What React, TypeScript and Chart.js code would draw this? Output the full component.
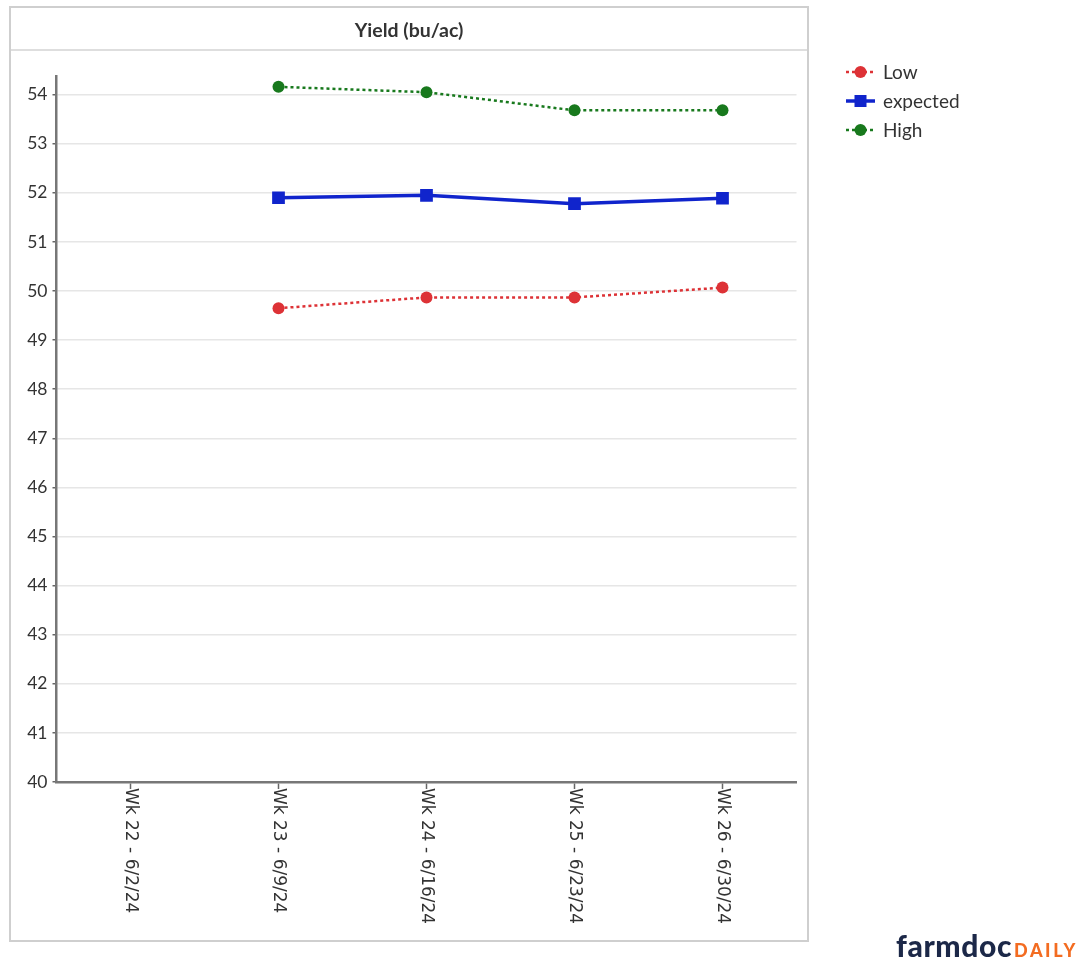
import React, { useEffect, useRef } from 'react';
import { Chart, registerables } from 'chart.js';

Chart.register(...registerables);

const categories = ['Wk 22 - 6/2/24', 'Wk 23 - 6/9/24', 'Wk 24 - 6/16/24', 'Wk 25 - 6/23/24', 'Wk 26 - 6/30/24'];
const lowValues = [null, 49.65, 49.87, 49.87, 50.07];
const expectedValues = [null, 51.9, 51.95, 51.78, 51.89];
const highValues = [null, 54.16, 54.05, 53.68, 53.68];
const yTickValues = [40, 41, 42, 43, 44, 45, 46, 47, 48, 49, 50, 51, 52, 53, 54];
const seriesNames = ['Low', 'expected', 'High'];

const W = 1083;
const H = 965;

const xLabelPlugin = {
  id: 'xLabelPlugin',
  afterDraw(chart: any) {
    const ctx = chart.ctx;
    const xs = chart.scales.x;
    ctx.save();
    ctx.fillStyle = '#333';
    ctx.font = '17px "DejaVu Sans"';
    ctx.textAlign = 'left';
    ctx.textBaseline = 'middle';
    categories.forEach((lab, i) => {
      const x = xs.getPixelForTick(i);
      ctx.save();
      ctx.translate(x, xs.top + 6);
      ctx.rotate(Math.PI / 2);
      ctx.fillText(lab, 0, 0);
      ctx.restore();
    });
    ctx.restore();
  },
};

const legendPlugin = {
  id: 'customLegend',
  afterDraw(chart: any) {
    const ctx = chart.ctx;
    const rows = [72, 101, 130];
    chart.data.datasets.forEach((ds: any, i: number) => {
      const y = rows[i];
      ctx.save();
      ctx.strokeStyle = ds.borderColor;
      ctx.lineWidth = ds.borderWidth;
      ctx.setLineDash(ds.borderDash || []);
      ctx.beginPath();
      ctx.moveTo(846, y);
      ctx.lineTo(875, y);
      ctx.stroke();
      ctx.setLineDash([]);
      ctx.fillStyle = ds.pointBackgroundColor;
      if (ds.pointStyle === 'rect') {
        ctx.fillRect(860.5 - 6, y - 6, 12, 12);
      } else {
        ctx.beginPath();
        ctx.arc(860.5, y, 6, 0, Math.PI * 2);
        ctx.fill();
      }
      ctx.fillStyle = '#333';
      ctx.font = '19px Lato';
      ctx.textAlign = 'left';
      ctx.textBaseline = 'middle';
      ctx.fillText(ds.label, 883, y + 1);
      ctx.restore();
    });
  },
};

export default function App() {
  const ref = useRef<HTMLCanvasElement | null>(null);

  useEffect(() => {
    if (!ref.current) return;
    const red = '#dd3236';
    const blue = '#1024cc';
    const green = '#18791d';
    const chart = new Chart(ref.current, {
      type: 'line',
      data: {
        labels: categories,
        datasets: [
          {
            label: seriesNames[0],
            data: lowValues,
            borderColor: red,
            backgroundColor: red,
            pointBackgroundColor: red,
            pointBorderColor: red,
            borderWidth: 2.5,
            borderDash: [3, 3],
            pointStyle: 'circle',
            pointRadius: 6,
            pointBorderWidth: 0,
            tension: 0,
          },
          {
            label: seriesNames[1],
            data: expectedValues,
            borderColor: blue,
            backgroundColor: blue,
            pointBackgroundColor: blue,
            pointBorderColor: blue,
            borderWidth: 3.5,
            pointStyle: 'rect',
            pointRadius: 9,
            pointBorderWidth: 0,
            tension: 0,
          },
          {
            label: seriesNames[2],
            data: highValues,
            borderColor: green,
            backgroundColor: green,
            pointBackgroundColor: green,
            pointBorderColor: green,
            borderWidth: 2.5,
            borderDash: [3, 3],
            pointStyle: 'circle',
            pointRadius: 6,
            pointBorderWidth: 0,
            tension: 0,
          },
        ] as any,
      },
      options: {
        animation: false,
        responsive: false,
        maintainAspectRatio: false,
        devicePixelRatio: 1,
        layout: { padding: { left: 0, right: W - 796.5, top: 76, bottom: 0 } },
        plugins: {
          legend: { display: false },
          tooltip: { enabled: false },
          title: { display: false },
        },
        scales: {
          x: {
            type: 'category',
            offset: true,
            grid: {
              drawOnChartArea: false,
              drawTicks: true,
              tickLength: 7,
              tickColor: '#666',
              tickWidth: 1.5,
            },
            border: { color: '#777', width: 2.5 },
            ticks: { display: false },
            afterFit: (s: any) => {
              s.height = H - 782;
            },
          },
          y: {
            min: 40,
            max: 54.38,
            afterBuildTicks: (s: any) => {
              s.ticks = yTickValues.map((v) => ({ value: v }));
            },
            grid: {
              color: '#e6e6e6',
              lineWidth: 1.5,
              tickColor: '#666',
              tickLength: 4,
              tickWidth: 1.5,
            },
            border: { color: '#777', width: 2.5 },
            ticks: {
              color: '#333',
              padding: 5,
              font: { family: 'Lato', size: 17.5 },
            },
            afterFit: (s: any) => {
              s.width = 56.5;
            },
          },
        },
      } as any,
      plugins: [xLabelPlugin, legendPlugin],
    });
    return () => chart.destroy();
  }, []);

  return (
    <div style={{ position: 'absolute', left: 0, top: 0, width: W, height: H, background: '#fff', overflow: 'hidden' }}>
      <canvas ref={ref} width={W} height={H} style={{ position: 'absolute', left: 0, top: 0, width: W, height: H }} />
      <div
        style={{
          position: 'absolute',
          left: 9,
          top: 6,
          width: 800,
          height: 936,
          boxSizing: 'border-box',
          border: '2px solid #cfcfcf',
          pointerEvents: 'none',
        }}
      />
      <div
        style={{
          position: 'absolute',
          left: 11,
          top: 8,
          width: 796,
          height: 43,
          boxSizing: 'border-box',
          borderBottom: '2px solid #dedede',
          display: 'flex',
          alignItems: 'center',
          justifyContent: 'center',
          paddingTop: 2,
          fontFamily: 'Lato',
          fontWeight: 700,
          fontSize: 19.5,
          color: '#333',
          pointerEvents: 'none',
        }}
      >
        Yield (bu/ac)
      </div>
      <div
        style={{
          position: 'absolute',
          left: 896,
          top: 930,
          whiteSpace: 'nowrap',
          fontFamily: 'Lato',
          fontWeight: 900,
          lineHeight: '30px',
        }}
      >
        <span style={{ color: '#1c2848', fontSize: 30, letterSpacing: 0.6 }}>farmdoc</span>
        <span style={{ color: '#f36c21', fontSize: 18, letterSpacing: 2.6, marginLeft: 2 }}>DAILY</span>
      </div>
    </div>
  );
}
